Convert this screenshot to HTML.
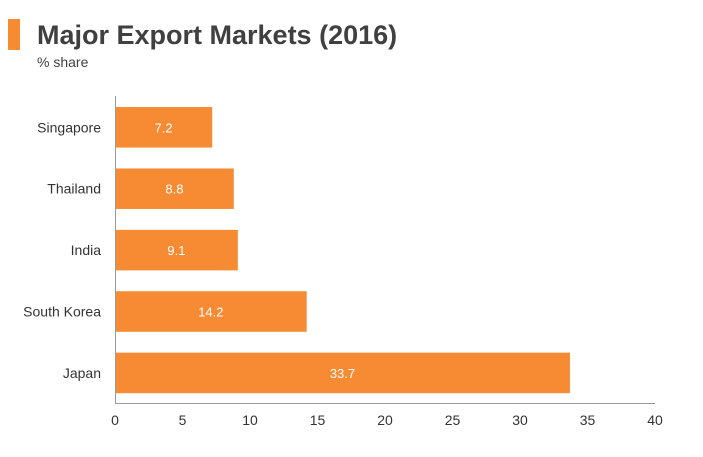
<!DOCTYPE html>
<html><head><meta charset="utf-8"><style>
body{margin:0;background:#fff;width:703px;height:452px;overflow:hidden;font-family:"Liberation Sans",sans-serif}
</style></head><body>
<svg width="703" height="452" xmlns="http://www.w3.org/2000/svg" font-family="Liberation Sans, sans-serif">
<rect x="8" y="19" width="12" height="31" fill="#f68b33"/>
<text x="37" y="44" font-size="27" font-weight="bold" fill="#404040">Major Export Markets (2016)</text>
<text x="37" y="67" font-size="14" fill="#404040">% share</text>
<g id="plot"></g>
</svg>
<script>
const categories=["Singapore","Thailand","India","South Korea","Japan"];
const values=[7.2,8.8,9.1,14.2,33.7];
const ticks=[0,5,10,15,20,25,30,35,40];
const x0=115,x1=655,plotTop=96,plotBottom=403;
const xs=v=>x0+(v/40)*(x1-x0);
const band=(plotBottom-plotTop)/categories.length;
const g=document.getElementById('plot');
const NS='http://www.w3.org/2000/svg';
function mk(t,a){const e=document.createElementNS(NS,t);for(const k in a)e.setAttribute(k,a[k]);g.appendChild(e);return e;}
categories.forEach((c,i)=>{
 const y=plotTop+band*i+band*0.18, h=band*0.66;
 const r=mk('rect',{x:x0,y:y,width:xs(values[i])-x0,height:h,fill:'#f68b33'});
 
 
 const l=mk('text',{x:(x0+xs(values[i]))/2,y:y+h/2+5,'font-size':13,fill:'#fff','text-anchor':'middle'});
 l.textContent=values[i].toFixed(1);
 
 
 const cl=mk('text',{x:101,y:y+h/2+5,'font-size':14,fill:'#333','text-anchor':'end'});
 cl.textContent=c;
 
 
});
const ya=mk('line',{x1:x0+0.5,y1:plotTop,x2:x0+0.5,y2:plotBottom,stroke:'#999'});


const xa=mk('line',{x1:x0,y1:plotBottom+0.5,x2:x1,y2:plotBottom+0.5,stroke:'#999'});


ticks.forEach(t=>{
 const tl=mk('text',{x:xs(t),y:425,'font-size':14,fill:'#333','text-anchor':'middle'});
 tl.textContent=t;
 
 
});
</script>
</body></html>
